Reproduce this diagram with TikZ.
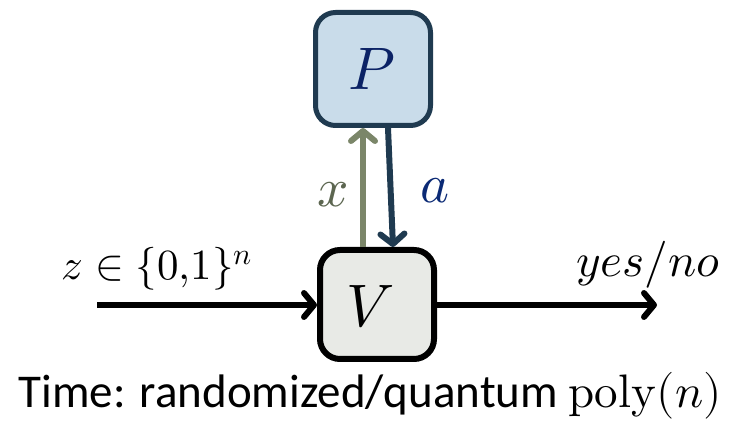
\documentclass[tikz,border=0pt]{standalone}
\usepackage{fontspec}
\usepackage{unicode-math}
\setmainfont{Carlito}
\setmathfont{Latin Modern Math}
\usetikzlibrary{arrows.meta,calc}
\definecolor{pfill}{HTML}{C9DCEA}
\definecolor{pborder}{HTML}{1F3A50}
\definecolor{ptext}{HTML}{0B2265}
\definecolor{vfill}{HTML}{E8EAE6}
\definecolor{xcol}{HTML}{7B8669}
\definecolor{xtext}{HTML}{5C6650}
\definecolor{atext}{HTML}{0B2A75}
\tikzset{
  boxnode/.style={rounded corners=20pt, inner sep=0pt},
  flow/.style={line width=6pt, -{Straight Barb[length=10pt,width=24pt,line cap=round,line join=round]}},
  lbl/.style={anchor=base, inner sep=0pt},
}
\begin{document}
\begin{tikzpicture}[x=1pt,y=-1pt]
\useasboundingbox (0,0) rectangle (734,430);
\node[boxnode, draw=pborder, fill=pfill, line width=5pt, minimum width=115pt, minimum height=113pt] (P) at (373,69) {};
\node[lbl, text=ptext, font=\fontsize{60}{70}\selectfont] (Pl) at (372,90) {$P$};
\node[boxnode, draw=black, fill=vfill, line width=6pt, minimum width=114pt, minimum height=109pt] (V) at (377,304.5) {};
\node[lbl, font=\fontsize{60}{70}\selectfont] (Vl) at (370,327) {$V$};
\coordinate (xc) at (363,0);
\coordinate (ac1) at (388,0);
\coordinate (ac2) at (393,0);
\draw[flow, draw=xcol] (V.north -| xc) -- (P.south -| xc);
\draw[flow, draw=pborder] (P.south -| ac1) -- (V.north -| ac2);
\coordinate (in) at (97,305);
\coordinate (out) at (657,305);
\draw[flow] (in) -- (V.west |- in);
\draw[flow] (V.east |- out) -- (out);
\node[lbl, font=\fontsize{43}{50}\selectfont] (zl) at (157,280) {$z\in\{0{,}1\}^n$};
\node[lbl, font=\fontsize{47}{54}\selectfont] (yl) at (648,277) {$\symit{yes}/\symit{no}$};
\node[lbl, text=xtext, font=\fontsize{55}{64}\selectfont] (xl) at (333,207) {$x$};
\node[lbl, text=atext, font=\fontsize{55}{64}\selectfont] (al) at (435,203) {$a$};
\node[lbl, font=\fontsize{47}{56}\selectfont] (tl) at (370,407) {Time: randomized/quantum $\symup{poly}(n)$};
\end{tikzpicture}
\end{document}
